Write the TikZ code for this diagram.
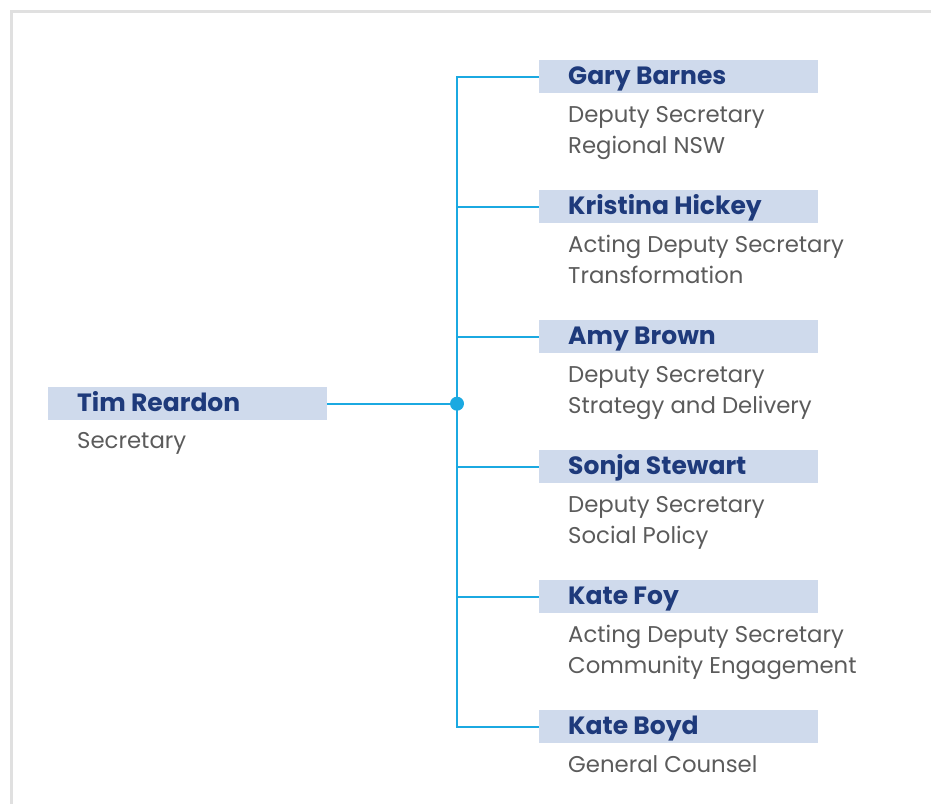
\documentclass[tikz,border=0pt]{standalone}
\usepackage{fontspec}
\setmainfont{Poppins}
\definecolor{boxfill}{HTML}{CFDAEC}
\definecolor{namecol}{HTML}{1E3A7B}
\definecolor{subcol}{HTML}{5B5B5B}
\definecolor{linecol}{HTML}{1BA9E1}
\definecolor{framecol}{HTML}{E0E0E0}
\tikzset{
  namebox/.style={fill=boxfill, minimum width=279pt, minimum height=33pt, inner sep=0pt, anchor=north west},
  nametext/.style={anchor=base west, inner sep=0pt, text=namecol, font=\fontsize{25}{28}\selectfont\bfseries},
  subtext/.style={anchor=base west, inner sep=0pt, text=subcol, font=\fontsize{22.8}{31}\selectfont},
  conn/.style={draw=linecol, line width=2pt},
}
\begin{document}
\begin{tikzpicture}[x=1pt,y=-1pt]
\useasboundingbox (0,0) rectangle (931,804);
\draw[framecol, line width=3pt] (11,804) -- (11,11) -- (931,11);
% root
\node[namebox] (root) at (48,387) {};
\node[nametext] (rootname) at (77,411) {Tim Reardon};
\node[subtext] (roottitle) at (77,448) {Secretary};
\coordinate (hub) at (root.east -| 457,0);
% children
\foreach \i/\nm/\ta/\tb in {0/Gary Barnes/Deputy Secretary/Regional NSW,
  1/Kristina Hickey/Acting Deputy Secretary/Transformation,
  2/Amy Brown/Deputy Secretary/Strategy and Delivery,
  3/Sonja Stewart/Deputy Secretary/Social Policy,
  4/Kate Foy/Acting Deputy Secretary/Community Engagement,
  5/Kate Boyd/General Counsel/}{
  \node[namebox] (c\i) at (539,60+130*\i) {};
  \node[nametext] (c\i name) at (568,84+130*\i) {\nm};
  \node[subtext] (c\i titleA) at (568,122.5+130*\i) {\ta};
  \node[subtext] (c\i titleB) at (568,153.5+130*\i) {\tb};
}
\draw[conn] (c0.west) -| (hub) |- (c5.west);
\foreach \i in {1,2,3,4}{ \draw[conn] (hub |- c\i.west) -- (c\i.west); }
\draw[conn] (root.east) -- (hub);
\fill[linecol] (hub) circle (7pt);
\end{tikzpicture}
\end{document}
